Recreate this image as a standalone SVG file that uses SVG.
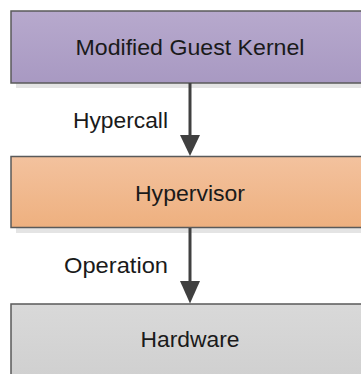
<svg xmlns="http://www.w3.org/2000/svg" width="361" height="374" viewBox="0 0 361 374">
<defs>
<linearGradient id="gP" x1="0" y1="0" x2="0" y2="1"><stop offset="0" stop-color="#b7a9cd"/><stop offset="1" stop-color="#a899c2"/></linearGradient>
<linearGradient id="gO" x1="0" y1="0" x2="0" y2="1"><stop offset="0" stop-color="#f3c29e"/><stop offset="1" stop-color="#eeb07f"/></linearGradient>
<linearGradient id="gG" x1="0" y1="0" x2="0" y2="1"><stop offset="0" stop-color="#d9d9d9"/><stop offset="1" stop-color="#cfcfcf"/></linearGradient>
</defs>
<style>
.box{stroke:#5a5a5a;stroke-width:1.5}
.sh{fill:#e4e4e4}
.t{font-family:"Liberation Sans",Arial,sans-serif;font-size:22px;fill:#1a1a1a}
.c{stroke:#404040;stroke-width:3;fill:none}
.h{fill:#404040}
</style>
<g id="kernel">
<rect class="sh" x="16" y="16" width="350" height="72"/>
<rect class="box" x="11" y="11" width="360" height="72" fill="url(#gP)"/>
<text class="t" x="190" y="55" text-anchor="middle" textLength="229" lengthAdjust="spacingAndGlyphs">Modified Guest Kernel</text>
</g>
<g id="hypervisor">
<rect class="sh" x="16" y="162" width="350" height="71"/>
<rect class="box" x="11" y="156.5" width="360" height="71" fill="url(#gO)"/>
<text class="t" x="190" y="201" text-anchor="middle" textLength="110" lengthAdjust="spacingAndGlyphs">Hypervisor</text>
</g>
<g id="hardware">
<rect class="box" x="11" y="304" width="360" height="80" fill="url(#gG)"/>
<text class="t" x="190" y="347" text-anchor="middle" textLength="99" lengthAdjust="spacingAndGlyphs">Hardware</text>
</g>
<g id="connectors">
<line class="c" x1="190" y1="83" x2="190" y2="136"/>
<path class="h" d="M180,135 L200,135 L190,156 Z"/>
<line class="c" x1="190" y1="228" x2="190" y2="282"/>
<path class="h" d="M180,281 L200,281 L190,303.5 Z"/>
<text class="t" x="168" y="128" text-anchor="end" textLength="95" lengthAdjust="spacingAndGlyphs">Hypercall</text>
<text class="t" x="168" y="273" text-anchor="end" textLength="104" lengthAdjust="spacingAndGlyphs">Operation</text>
</g>
</svg>
